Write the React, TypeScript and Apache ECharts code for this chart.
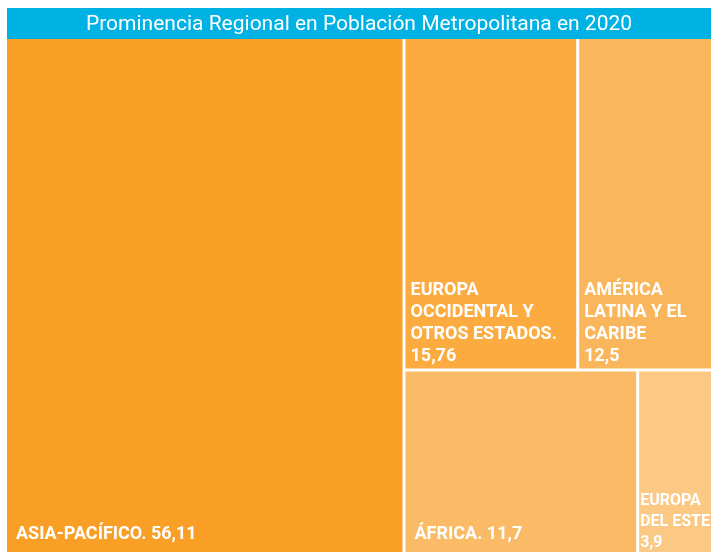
import React, { useEffect, useRef } from "react";
import * as echarts from "echarts";

const titleText = "Prominencia Regional en Población Metropolitana en 2020";
const regions = [
  "Asia-Pacífico.",
  "Europa Occidental y Otros Estados.",
  "América Latina y el Caribe",
  "África.",
  "Europa del Este",
];
const values = [56.11, 15.76, 12.5, 11.7, 3.9];
// label text lines (as shown in the chart) and separator before the value
const labelNames = [
  "ASIA-PACÍFICO.",
  "EUROPA\nOCCIDENTAL Y\nOTROS ESTADOS.",
  "AMÉRICA\nLATINA Y EL\nCARIBE",
  "ÁFRICA.",
  "EUROPA\nDEL ESTE",
];
const valueSeparators = [" ", "\n", "\n", " ", "\n"];
const colors = ["#F99F26", "#FBAB40", "#FAB65C", "#FBBB66", "#FCC985"];

const fmt = (v: number) => String(v).replace(".", ",");

export default function App() {
  const ref = useRef<HTMLDivElement>(null);
  useEffect(() => {
    if (!ref.current) return;
    const chart = echarts.init(ref.current, undefined, { renderer: "svg" });
    const minValue = Math.min(...values);
    chart.setOption({
      animation: false,
      graphic: [
        {
          type: "rect",
          left: 0,
          top: 0,
          shape: { width: 704, height: 31 },
          style: { fill: "#00B2E3" },
          silent: true,
        },
        {
          type: "text",
          left: "center",
          top: 4,
          style: {
            text: titleText,
            fill: "#ffffff",
            font: "21px Roboto",
          },
          silent: true,
        },
      ],
      series: [
        {
          type: "treemap",
          left: 0,
          right: -3,
          top: 31,
          bottom: 0,
          roam: false,
          nodeClick: false,
          breadcrumb: { show: false },
          sort: "desc",
          itemStyle: { gapWidth: 3, borderWidth: 0, borderColor: "#fff" },
          label: {
            show: true,
            position: "insideBottomLeft",
            overflow: "none",
            color: "#ffffff",
            fontFamily: "Roboto",
            fontWeight: "bold",
            fontSize: 18,
            lineHeight: 22,
            padding: [0, 0, 3, 5],
            formatter: (p: any) => {
              const i = regions.indexOf(p.name);
              return labelNames[i] + valueSeparators[i] + fmt(values[i]);
            },
          },
          data: regions.map((r, i) => {
            let label: any = undefined;
            if (values[i] === minValue) {
              label = { fontSize: 16, lineHeight: 21, padding: [0, 0, 0, 1] };
            } else if (valueSeparators[i] === " ") {
              label = { padding: [0, 0, 9, 9] };
            }
            return {
              name: r,
              value: values[i],
              itemStyle: { color: colors[i] },
              ...(label ? { label } : {}),
            };
          }),
        },
      ],
    });
    return () => chart.dispose();
  }, []);
  return (
    <div
      ref={ref}
      style={{ position: "fixed", left: 7, top: 8, width: 704, height: 544 }}
    />
  );
}
